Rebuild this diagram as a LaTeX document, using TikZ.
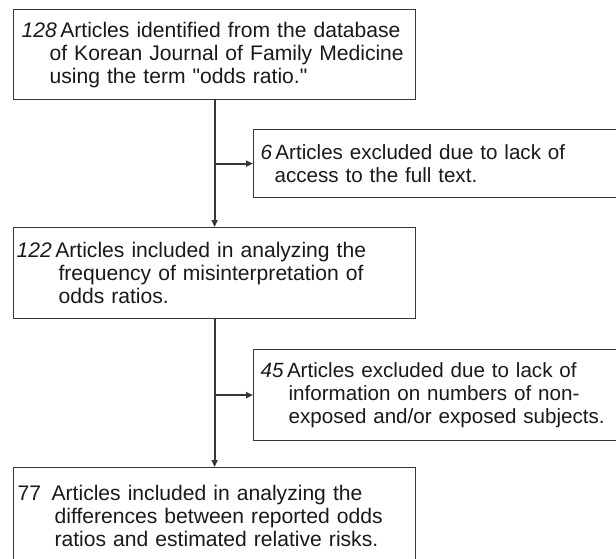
\documentclass[tikz,border=0pt]{standalone}
\usepackage{fontspec}
\setmainfont{Liberation Sans}
\usetikzlibrary{arrows.meta}
\definecolor{boxline}{RGB}{55,55,55}
\definecolor{inktext}{RGB}{25,25,25}

\begin{document}
\begin{tikzpicture}[x=1pt, y=-1pt,
  box/.style={draw=boxline, line width=1.2pt, rectangle, anchor=north west,
    align=left, text=inktext, inner ysep=0pt},
  stagebox/.style={box, minimum width=402, text width=396, inner xsep=3,
    font=\fontsize{21.1}{23}\selectfont},
  dropbox/.style={box, minimum width=375, text width=361, inner xsep=7,
    font=\fontsize{20.6}{23}\selectfont},
  link/.style={draw=boxline, line width=2pt, -{Triangle[length=7pt, width=6pt]}}
]
  % page frame, the exclusion boxes run off the right edge
  \useasboundingbox (0,0) rectangle (616,558);
  \clip (0,0) rectangle (616,558);

  % ===== main flow =====
  \node[stagebox, minimum height=90] (found) at (13,9)
    {\hspace*{5pt}\textit{128}\,Articles identified from the database\\
     \hspace*{33pt}of Korean Journal of Family Medicine\\
     \hspace*{33pt}using the term \textquotedbl odds ratio.\textquotedbl};
  \node[stagebox, minimum height=91] (freq) at (13,227)
    {\textit{122}\,Articles included in analyzing the\\
     \hspace*{42pt}frequency of misinterpretation of\\
     \hspace*{42pt}odds ratios.};
  \node[stagebox, minimum height=96] (diff) at (13,467)
    {\hspace*{1pt}77\hspace{0.5em}Articles included in analyzing the\\
     \hspace*{38pt}differences between reported odds\\
     \hspace*{38pt}ratios and estimated relative risks.};

  % ===== exclusions =====
  \node[dropbox, minimum height=68] (noaccess) at (253,129)
    {\textit{6}\,Articles excluded due to lack of\\
     \hspace*{14pt}access to the full text.};
  \node[dropbox, minimum height=91] (nocount) at (253,349)
    {\textit{45}\,Articles excluded due to lack of\\
     \hspace*{28pt}information on numbers of non-\\
     \hspace*{28pt}exposed and/or exposed subjects.};

  % ===== connectors =====
  \draw[link] (found.south) -- (freq.north);
  \draw[link] (found.south |- noaccess.west) -- (noaccess.west);
  \draw[link] (freq.south) -- (diff.north);
  \draw[link] (freq.south |- nocount.west) -- (nocount.west);
\end{tikzpicture}
\end{document}
